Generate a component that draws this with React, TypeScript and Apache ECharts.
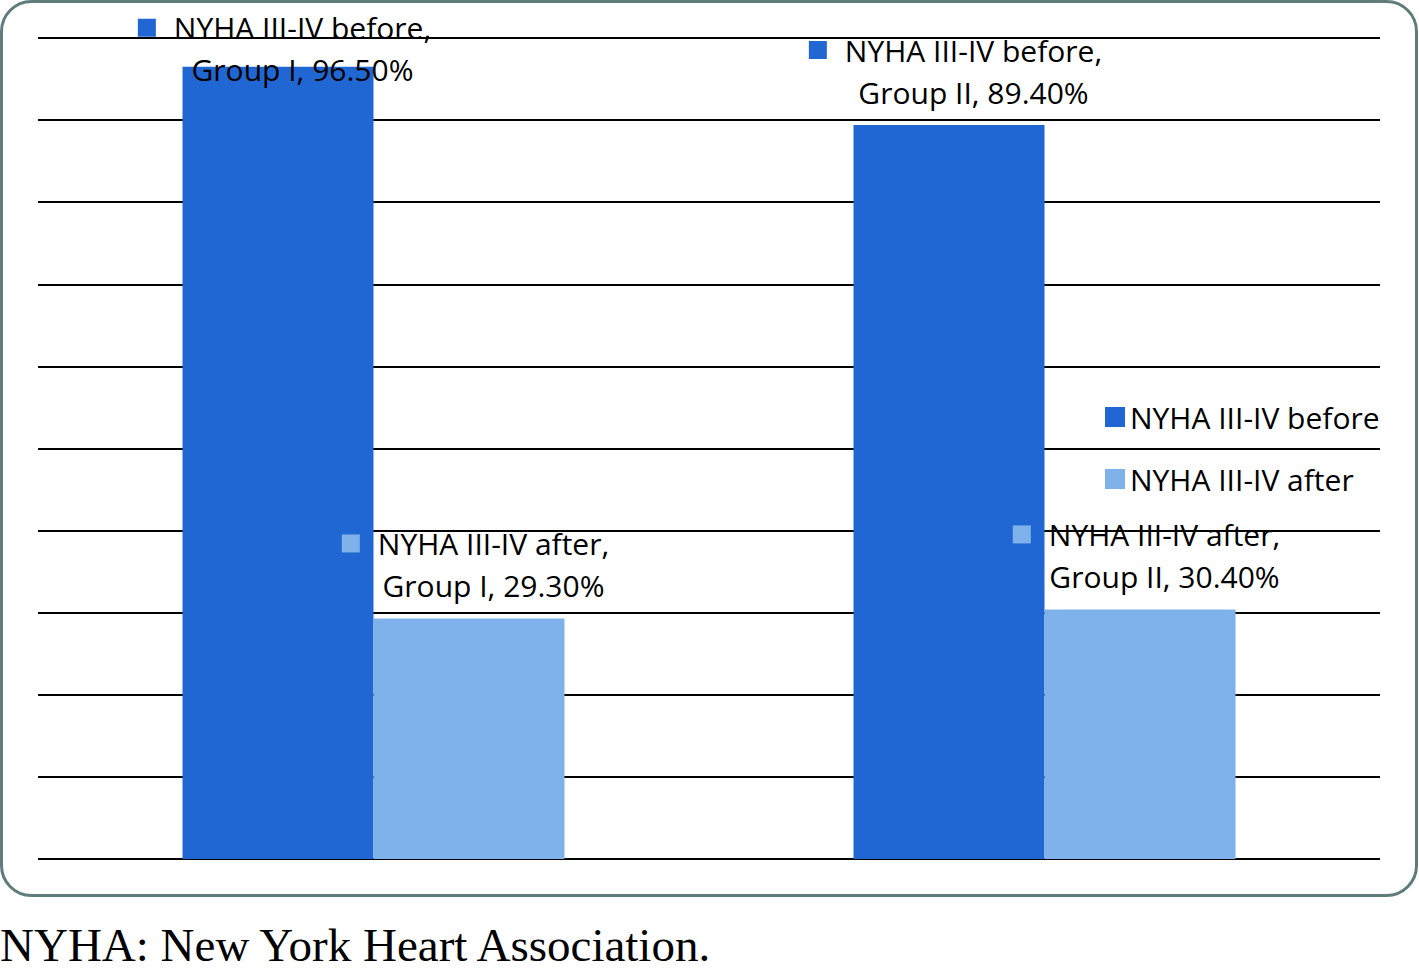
import React, { useEffect, useRef } from "react";
import * as echarts from "echarts";

const categories = ["Group I", "Group II"];
const seriesNames = ["NYHA III-IV before", "NYHA III-IV after"];
const beforeValues = [96.5, 89.4];
const afterValues = [29.3, 30.4];
const colors = ["#2167d3", "#7fb1ea"];
const captionText = "NYHA: New York Heart Association.";

const FONT = "'Open Sans', sans-serif";
const FS = 30;

function makeLabel(seriesName: string, cat: string, v: number, color: string, pos: number[]) {
  return {
    show: true,
    position: pos,
    align: "center",
    verticalAlign: "middle",
    formatter: `{sq|}{gap|}{t|${seriesName},}{pad|}\n{t|${cat}, ${v.toFixed(2)}%}`,
    rich: {
      sq: { width: 18, height: 18, backgroundColor: color },
      gap: { width: 18 },
      pad: { width: 36 },
      t: { fontFamily: FONT, fontSize: FS, color: "#000", lineHeight: 42 },
    },
  };
}

export default function App() {
  const ref = useRef<HTMLDivElement>(null);
  useEffect(() => {
    document.body.style.margin = "0";
    const chart = echarts.init(ref.current!, null, { renderer: "svg" });
    const beforeData = beforeValues.map((v, i) => ({
      value: v,
      label: makeLabel(seriesNames[0], categories[i], v, colors[0], i === 0 ? [120, -18] : [120, -54]),
    }));
    const afterData = afterValues.map((v, i) => ({
      value: v,
      label: makeLabel(seriesNames[1], categories[i], v, colors[1], [120, -54]),
    }));
    chart.setOption({
      animation: false,
      grid: { left: 38, right: 39, top: 38, bottom: 110 },
      xAxis: {
        type: "category",
        data: categories,
        axisLine: { show: false },
        axisTick: { show: false },
        axisLabel: { show: false },
      },
      yAxis: {
        type: "value",
        min: 0,
        max: 100,
        interval: 10,
        axisLabel: { show: false },
        axisLine: { show: false },
        axisTick: { show: false },
        splitLine: { lineStyle: { color: "#000", width: 2 } },
      },
      legend: {
        orient: "vertical",
        left: 1100,
        top: 397,
        itemWidth: 20,
        itemHeight: 20,
        itemGap: 32,
        itemTextGap: 15,
        icon: "rect",
        data: seriesNames,
        textStyle: { fontFamily: FONT, fontSize: FS, color: "#000", lineHeight: 30 },
      },
      series: [
        {
          name: seriesNames[0],
          type: "bar",
          data: beforeData,
          barWidth: 191,
          barGap: "0%",
          itemStyle: { color: colors[0] },
        },
        {
          name: seriesNames[1],
          type: "bar",
          data: afterData,
          barWidth: 191,
          barGap: "0%",
          itemStyle: { color: colors[1] },
        },
      ],
      graphic: [
        {
          type: "rect",
          shape: { x: 1.5, y: 1.5, width: 1415, height: 894, r: 30 },
          style: { fill: "none", stroke: "#5f7b7b", lineWidth: 3 },
          z: 100,
        },
        {
          type: "text",
          left: 0,
          top: 921,
          style: {
            text: captionText,
            font: "47px 'Liberation Serif', 'Times New Roman', serif",
            fill: "#000",
          },
        },
      ],
    });
    return () => chart.dispose();
  }, []);
  return <div ref={ref} style={{ position: "absolute", left: 0, top: 0, width: 1419, height: 969 }} />;
}
